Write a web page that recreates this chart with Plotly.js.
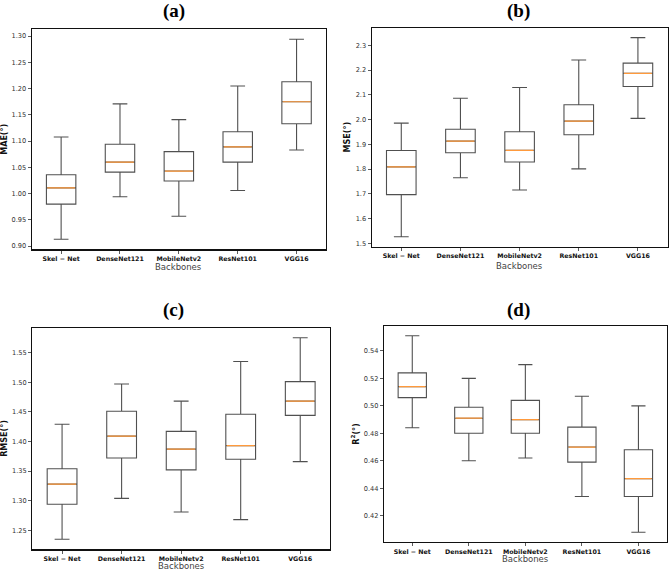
<!DOCTYPE html>
<html>
<head>
<meta charset="utf-8">
<script src="https://cdn.plot.ly/plotly-3.0.1.min.js"></script>
<style>html,body{margin:0;padding:0;background:#fff;}#chart{width:669px;height:571px;}</style>
</head>
<body>
<div id="chart"></div>
<script>
// ---- data ----
const categories = ['Skel \u2212 Net', 'DenseNet121', 'MobileNetv2', 'ResNet101', 'VGG16'];

const maeLow  = [0.913, 0.994, 0.957, 1.006, 1.083];
const maeQ1   = [0.980, 1.041, 1.024, 1.060, 1.133];
const maeMed  = [1.011, 1.060, 1.043, 1.089, 1.175];
const maeQ3   = [1.036, 1.094, 1.080, 1.118, 1.213];
const maeHigh = [1.108, 1.171, 1.141, 1.205, 1.294];

const mseLow  = [1.527, 1.765, 1.716, 1.801, 2.005];
const mseQ1   = [1.697, 1.866, 1.829, 1.939, 2.134];
const mseMed  = [1.809, 1.913, 1.876, 1.994, 2.187];
const mseQ3   = [1.875, 1.961, 1.951, 2.060, 2.228];
const mseHigh = [1.986, 2.086, 2.130, 2.241, 2.331];

const rmseLow  = [1.235, 1.304, 1.281, 1.268, 1.366];
const rmseQ1   = [1.294, 1.372, 1.352, 1.370, 1.444];
const rmseMed  = [1.328, 1.409, 1.387, 1.393, 1.468];
const rmseQ3   = [1.354, 1.451, 1.417, 1.446, 1.501];
const rmseHigh = [1.429, 1.497, 1.468, 1.535, 1.575];

const r2Low  = [0.484, 0.460, 0.462, 0.434, 0.408];
const r2Q1   = [0.506, 0.480, 0.480, 0.459, 0.434];
const r2Med  = [0.514, 0.491, 0.490, 0.470, 0.447];
const r2Q3   = [0.524, 0.499, 0.504, 0.4845, 0.468];
const r2High = [0.551, 0.520, 0.530, 0.507, 0.500];

const panelTitles = ['(a)', '(b)', '(c)', '(d)'];
const yTitles = ['MAE(°)', 'MSE(°)', 'RMSE(°)', 'R<sup>2</sup>(°)'];
const xTitle = 'Backbones';

// ---- build ----
const panels = [
  {low: maeLow, q1: maeQ1, med: maeMed, q3: maeQ3, high: maeHigh, dtick: 0.05, fmt: '.2f'},
  {low: mseLow, q1: mseQ1, med: mseMed, q3: mseQ3, high: mseHigh, dtick: 0.1, fmt: '.1f'},
  {low: rmseLow, q1: rmseQ1, med: rmseMed, q3: rmseQ3, high: rmseHigh, dtick: 0.05, fmt: '.2f'},
  {low: r2Low, q1: r2Q1, med: r2Med, q3: r2Q3, high: r2High, dtick: 0.02, fmt: '.2f'}
];

const W = 669, H = 571;
// plot boxes in pixels [left, right, top, bottom]
const boxes = [
  [31.7, 326.0, 29.3, 249.3],
  [371.7, 667.5, 27.7, 246.7],
  [32.3, 330.0, 327.7, 549.3],
  [384.0, 666.7, 326.0, 542.0]
];
const titlePos = [[174, 11], [518, 11], [174, 310], [518, 310]];
const xTitleY = [267, 265.5, 566, 559];

const traces = [];
const layout = {
  width: W, height: H,
  margin: {l: 0, r: 0, t: 0, b: 0},
  paper_bgcolor: '#fff', plot_bgcolor: '#fff',
  showlegend: false,
  boxmode: 'overlay',
  font: {family: 'DejaVu Sans', color: '#222'},
  annotations: []
};

panels.forEach((p, i) => {
  const n = i === 0 ? '' : String(i + 1);
  const xa = 'x' + n, ya = 'y' + n;
  traces.push({
    type: 'box', xaxis: xa, yaxis: ya,
    x: categories, q1: p.q1, median: p.med, q3: p.q3,
    lowerfence: p.low, upperfence: p.high,
    boxpoints: false, width: 0.5, whiskerwidth: 0.5,
    fillcolor: 'rgba(255,255,255,0)',
    line: {color: '#505050', width: 1.1},
    hoverinfo: 'skip'
  });
  traces.push({
    type: 'box', xaxis: xa, yaxis: ya,
    x: categories, q1: p.med, median: p.med, q3: p.med,
    lowerfence: p.med, upperfence: p.med,
    boxpoints: false, width: 0.47, whiskerwidth: 0,
    fillcolor: 'rgba(255,255,255,0)',
    line: {color: '#ff9a3c', width: 1.2},
    hoverinfo: 'skip'
  });
  const mn = Math.min(...p.low), mx = Math.max(...p.high);
  const pad = (mx - mn) * 0.05;
  const b = boxes[i];
  layout['xaxis' + n] = {
    domain: [b[0] / W, b[1] / W], anchor: ya,
    type: 'category', range: [-0.5, 4.5],
    showline: true, mirror: true, linecolor: '#111', linewidth: 1.2,
    ticks: 'outside', ticklen: 3, tickcolor: '#333', tickwidth: 0.8,
    showgrid: false, zeroline: false,
    tickfont: {family: 'DejaVu Sans', size: 6.3, weight: 'bold', color: '#111'}
  };
  layout['yaxis' + n] = {
    domain: [1 - b[3] / H, 1 - b[2] / H], anchor: xa,
    range: [mn - pad, mx + pad],
    dtick: p.dtick, tickformat: p.fmt,
    showline: true, mirror: true, linecolor: '#111', linewidth: 1.2,
    ticks: 'outside', ticklen: 3, tickcolor: '#333', tickwidth: 0.8,
    showgrid: false, zeroline: false,
    tickfont: {family: 'DejaVu Sans', size: 6.6, color: '#333'},
    title: {text: yTitles[i], font: {family: 'DejaVu Sans', size: 8, weight: 'bold', color: '#111'}, standoff: 3}
  };
  layout.annotations.push({
    text: '<b>' + panelTitles[i] + '</b>', showarrow: false,
    xref: 'paper', yref: 'paper',
    x: titlePos[i][0] / W, y: 1 - titlePos[i][1] / H,
    xanchor: 'center', yanchor: 'middle',
    font: {family: 'Liberation Serif', size: 19, color: '#000'}
  });
  layout.annotations.push({
    text: xTitle, showarrow: false,
    xref: 'paper', yref: 'paper',
    x: (b[0] + b[1]) / 2 / W, y: 1 - xTitleY[i] / H,
    xanchor: 'center', yanchor: 'middle',
    font: {family: 'DejaVu Sans', size: 8.5, color: '#444'}
  });
});

Plotly.newPlot('chart', traces, layout, {staticPlot: true, displayModeBar: false});
</script>
</body>
</html>
